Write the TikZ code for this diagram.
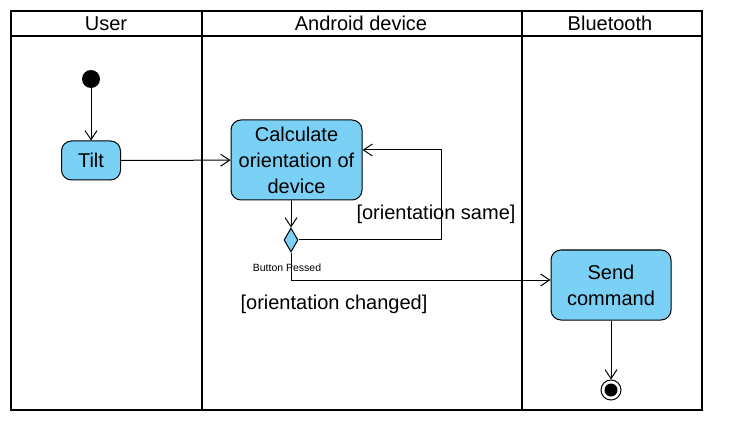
\documentclass[tikz,border=0pt]{standalone}
\usepackage{fontspec}
\setmainfont{Liberation Sans}
\usetikzlibrary{arrows.meta,shapes.geometric,positioning}
\definecolor{actblue}{RGB}{123,208,245}
\tikzset{actbox/.style={draw,fill=actblue,rounded corners=10pt,align=center,inner sep=2pt,font=\fontsize{20}{26}\selectfont},
    startdot/.style={circle,fill,inner sep=0,minimum size=18pt},
    enddot/.style={circle,draw,fill=white,inner sep=0,minimum size=20pt},
    decision/.style={diamond,draw,fill=actblue,inner sep=0,minimum width=14pt,minimum height=24pt},
    flow/.style={-{Straight Barb[length=9pt,width=12pt]}},
    lanetitle/.style={font=\fontsize{20}{22}\selectfont},
    guard/.style={font=\fontsize{20}{22}\selectfont},
    tinylabel/.style={font=\fontsize{10.5}{12}\selectfont}
}
\begin{document}
\begin{tikzpicture}[x=1pt,y=-1pt,line width=1pt]
\useasboundingbox (0,0) rectangle (729,433);

% swimlanes
\draw [line width=2pt] (11,11) rectangle (702,410);
\draw [line width=2pt] (11,36) -- (702,36);
\draw [line width=2pt] (201.5,11) -- (201.5,410);
\draw [line width=2pt] (521.5,11) -- (521.5,410);
\node (laneUser) [lanetitle] at (106,23.5) {User};
\node (laneAndroid) [lanetitle] at (361,23.5) {Android device};
\node (laneBt) [lanetitle] at (610,23.5) {Bluetooth};

% activities
\node (start) [startdot] at (91,79) {};
\node (tilt) [actbox,minimum width=59pt,minimum height=39pt] at (91,160.5) {Tilt};
\node (calc) [actbox,minimum width=131pt,minimum height=80pt] at (296.5,160) {Calculate\\orientation of\\device};
\node (dec) [decision] at (291,240) {};
\node (send) [actbox,minimum width=120pt,minimum height=70pt] at (611,285) {Send\\command};
\node (final) [enddot] at (611,390) {};
\fill (final.center) circle (6.5);

\coordinate (loopTop) at (441,150);

\draw [flow] (start) -- (tilt);
\draw [flow] (tilt) -- (calc);
\draw [flow] (calc.south -| dec) -- (dec.north);
\draw [flow] (dec.east) -| (loopTop) -- (calc.east |- loopTop);
\draw [flow] (dec.south) |- ([yshift=5pt]send.west);
\draw [flow] (send) -- (final);

% guards
\node (sameG) [guard] at (436,214) {[orientation same]};
\node (changedG) [guard] at (334,304) {[orientation changed]};
\node (pressG) [tinylabel] at (287,268) {Button Pessed};

\end{tikzpicture}
\end{document}
